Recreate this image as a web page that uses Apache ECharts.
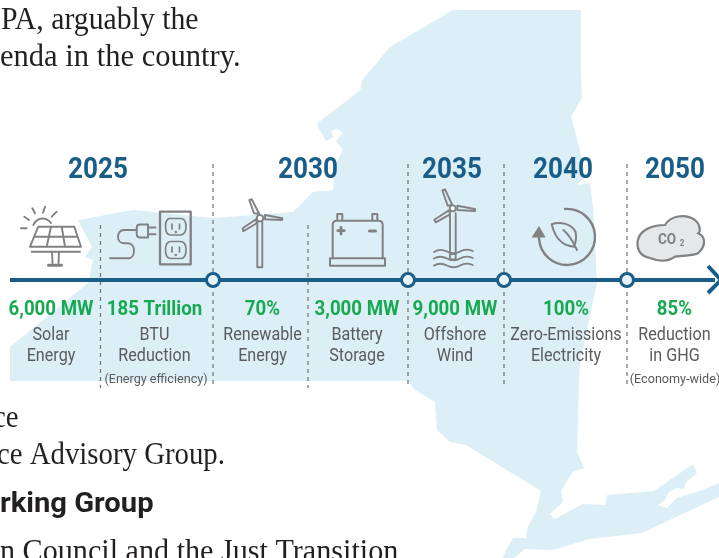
<!DOCTYPE html>
<html>
<head>
<meta charset="utf-8">
<style>html,body{margin:0;padding:0;background:#fff;overflow:hidden}#chart{width:719px;height:558px}</style>
<script src="https://cdn.jsdelivr.net/npm/echarts@6/dist/echarts.min.js"></script>
</head>
<body>
<div id="chart"></div>
<script>
// content
var years = ['2025', '2030', '2035', '2040', '2050'];
var amounts = ['6,000 MW', '185 Trillion', '70%', '3,000 MW', '9,000 MW', '100%', '85%'];
var measures = [['Solar', 'Energy'], ['BTU', 'Reduction'], ['Renewable', 'Energy'], ['Battery', 'Storage'], ['Offshore', 'Wind'], ['Zero-Emissions', 'Electricity'], ['Reduction', 'in GHG']];
var notes = ['', '(Energy efficiency)', '', '', '', '', '(Economy-wide)'];

// layout, in page pixels
var yearX = [98, 308, 452, 563, 675];
var columnX = [51, 154.5, 262.5, 357, 455, 566, 674.5];
var noteX = [0, 156, 0, 0, 0, 0, 675];
var milestoneX = [213, 408, 504, 627];
var minorX = [100.5, 308];
var lineY = 280;

var blue = '#1a5e88', green = '#17a950', grey = '#5a5b5d', icon = '#808183', mapColor = '#dceff7';

var mapPts = [[453,10],[581,10],[581,77],[582,98],[571,117],[580,150],[584,177],[577,185],[590,183],[593,207],[597,283],[580,363],[579,380],[577,452],[584,468],[572.5,472],[561,491],[563,502],[549.5,514],[555,519],[582.5,504],[605.5,505],[607,495],[654,491],[693,464],[697,473],[686,482],[684,489],[677,488],[669,492],[665,500],[658,505],[667,508],[677,498],[699.5,491],[719,483],[719,497],[642,533],[589.5,539],[553,550],[525,549],[514,558],[502,558],[513,538],[526,538],[527.5,527],[536,512],[541,491],[466,445],[450,442],[437,430],[435,402],[415,390],[408,381],[10,381],[10,347],[88,283],[93,260],[85,257],[92,247],[78,220],[133,210],[213,218],[293,212],[313,192],[333,190],[334,167],[343,150],[336,141],[343,133],[337,129],[331,131],[333.5,137],[326,141],[316.5,124],[360.5,90],[361.5,81],[390,47]];

function txt(x, y, s, size, color, weight, sx, family, align) {
    return {
        type: 'text', x: x, y: y, scaleX: sx, z: 10, silent: true,
        style: {
            text: s, fontFamily: family || 'Roboto', fontSize: size, fontWeight: weight || 'normal',
            fill: color, textAlign: align || 'center', textVerticalAlign: 'middle'
        }
    };
}
function stroke(d, w, fill) {
    return {
        type: 'path', shape: { pathData: d },
        style: { fill: fill || 'none', stroke: icon, lineWidth: w || 1.9, lineJoin: 'round', lineCap: 'round' }
    };
}
function solid(d) {
    return { type: 'path', shape: { pathData: d }, style: { fill: icon } };
}
function turbine(o) {
    return [stroke(o.tower), stroke(o.blades), stroke(o.hub, 1.8, '#fff')];
}

var elements = [{
    type: 'polygon', z: 0, silent: true, shape: { points: mapPts }, style: { fill: mapColor }
}];

// body copy around the timeline
var ink = '#231f20', serif = 'Liberation Serif';
elements.push(txt(1, 21, 'PA, arguably the', 32, ink, 'normal', 0.93, serif, 'left'));
elements.push(txt(0, 58, 'enda in the country.', 32, ink, 'normal', 0.955, serif, 'left'));
elements.push(txt(-7, 419, 'ce', 32, ink, 'normal', 0.9, serif, 'left'));
elements.push(txt(-3, 456, 'ce Advisory Group.', 32, ink, 'normal', 0.9, serif, 'left'));
elements.push(txt(0, 505, 'rking Group', 27, ink, 'bold', 1.08, 'Roboto', 'left'));
elements.push(txt(0, 553, 'n Council and the Just Transition', 32, ink, 'normal', 0.942, serif, 'left'));

years.forEach(function (y, i) { elements.push(txt(yearX[i], 170, y, 30, blue, 'bold', 0.87)); });
amounts.forEach(function (a, i) { elements.push(txt(columnX[i], 310, a, 21, green, 'bold', 0.89)); });
measures.forEach(function (m, i) {
    elements.push(txt(columnX[i], 335, m[0], 19, grey, 'normal', 0.85));
    elements.push(txt(columnX[i], 356, m[1], 19, grey, 'normal', 0.85));
});
notes.forEach(function (n, i) { if (n) elements.push(txt(noteX[i], 380, n, 13, grey, 'normal', 0.97)); });
elements.push(txt(667, 240, 'CO', 15, icon, 'bold', 0.9));
elements.push(txt(682, 244, '2', 9, icon, 'bold', 0.9));

// icons, drawn by one custom series
var icons = [];
// solar panel
icons.push(stroke('M33.3 225A10 10 0 0 1 51 223M21 228.3H26.7M24.3 216.7L29 220M32.3 208.3L35 213.3M45 206.7L43 212.7M56.7 211.7L51.7 216.7'));
icons.push(stroke('M38.3 226.7H74.3L81 246.7H30ZM34 236.7H77.7M51 226.7L46.7 246.7M61.7 226.7L65 246.7M31.7 251.7H80M52 252L52.5 263M59 252L58.5 263'));
icons.push(stroke('M48.5 265.2H61.5', 3));
// plug and outlet
icons.push(stroke('M110 258.3H128C136 258.3 136 243.3 128 243.3H124C116 243.3 116 230 124 230H136.7'));
icons.push(stroke('M148 224.5H140Q136.7 224.5 136.7 228V234Q136.7 237.5 140 237.5H148ZM148 227.5H155.5M148 234.3H155.5'));
icons.push(stroke('M160 211.7H190.7V264.3H160Z', 2.3));
icons.push(stroke('M171 218.5H180.5Q186 218.5 186 226.5T180.5 235H171Q165.5 235 165.5 226.5T171 218.5ZM172 224V229M179.5 224V229M171 241.5H180.5Q186 241.5 186 250T180.5 258.5H171Q165.5 258.5 165.5 250T171 241.5ZM172 247V252M179.5 247V252', 1.7));
icons.push(solid('M174.5 232a1.3 1.3 0 1 0 2.6 0a1.3 1.3 0 1 0 -2.6 0ZM174.5 255a1.3 1.3 0 1 0 2.6 0a1.3 1.3 0 1 0 -2.6 0Z'));
// onshore turbine
icons = icons.concat(turbine({
    tower: 'M257.3 222V267.3H262.3V222',
    blades: 'M259.3 214L251.7 199.3L249.3 200L254 213.3ZM265 215L282.3 218.3V220L265 219.3ZM256 219.3L242.7 228.3L243.3 231.3L256.7 223.3Z',
    hub: 'M256.8 218.3a3.2 3.2 0 1 0 6.4 0a3.2 3.2 0 1 0 -6.4 0Z'
}));
// battery
icons.push(stroke('M332.7 258.3V225Q332.7 220.7 337 220.7H378.5Q382.7 220.7 382.7 225V258.3M337.3 220.7V214H342.3V220.7M372.3 220.7V214H377.3V220.7', 2));
icons.push(stroke('M330 258.3H385V265.7H330Z', 2));
icons.push(stroke('M341 227.5V234M337.8 230.7H344.2', 2.8));
icons.push(stroke('M369.5 231H375.5', 3));
// offshore turbine
icons = icons.concat(turbine({
    tower: 'M450 213.3V259.5H455.7V213.3M450 254H455.7',
    blades: 'M452.3 205L445 189.3L442.3 190.3L447.7 205.7ZM457.3 205.7L475 209V211L457.3 210ZM449 210.3L434.3 219.7L435.7 222.3L450 214.3Z',
    hub: 'M449.7 208.3a3 3 0 1 0 6 0a3 3 0 1 0 -6 0Z'
}));
icons.push(stroke('M434 252Q440 248 447 251.5T460 251.5T472.7 251M434 258.5Q440 255 447 258.5T460 258.5T472.7 258M434 265.5Q440 262 447 265.5T460 265.5T472.7 265'));
// leaf in a circular arrow
icons.push(stroke('M565 209A28 28 0 1 1 539 237', 2.4));
icons.push(solid('M531.7 237.5H545.7L539 226Z'));
icons.push(stroke('M551.7 224.3C560 221 572 224 575.5 232C577 238 575.5 243 574 246.7C565 246 556 242 551.7 224.3ZM563.3 230C570 235 573 242 577 250', 2));
// CO2 cloud
icons.push({
    type: 'path',
    shape: { pathData: 'M637.5 241.7C639 230 652 225 665 225C670 216 685 213 695 220C700 224 701 231 698.3 233.3C705 236 707 245 698 253.3C693 256 685 255 675 256.7C668 262 660 262 650 258C640 256 637 250 637.5 241.7Z' },
    style: { fill: '#e6e7e8', stroke: icon, lineWidth: 2.2 }
});

// gaps between the dashed guides come from null points
var guides = [];
milestoneX.forEach(function (x) { guides.push([x, 164], [x, 388], null); });
minorX.forEach(function (x) { guides.push([x, 225], [x, 388], null); });

var timeline = [[10, lineY]].concat(milestoneX.map(function (x) {
    return { value: [x, lineY], symbol: 'circle', symbolSize: 13 };
}), [[715, lineY]]);

var myChart = echarts.init(document.getElementById('chart'));
var option = {
    backgroundColor: '#fff',
    animation: false,
    grid: { left: 0, right: 0, top: 0, bottom: 0 },
    xAxis: { type: 'value', min: 0, max: 719, show: false },
    yAxis: { type: 'value', min: 0, max: 558, inverse: true, show: false },
    graphic: { elements: elements },
    series: [
        {
            type: 'custom', name: 'icons', data: [[0, 0]], silent: true, z: 2, clip: false,
            renderItem: function () { return { type: 'group', children: icons }; }
        },
        {
            type: 'line', name: 'guides', data: guides, symbol: 'none', z: 3, silent: true,
            connectNulls: false,
            lineStyle: { color: '#6d6e70', width: 1.2, type: [4, 4] }
        },
        {
            type: 'line', name: 'timeline', data: timeline, symbol: 'none', showAllSymbol: true, z: 4, silent: true,
            lineStyle: { color: blue, width: 4 },
            itemStyle: { color: '#e6f3f9', borderColor: blue, borderWidth: 3, opacity: 1 }
        },
        {
            type: 'line', name: 'arrow', data: [[708, 266], [721, 280], [708, 293]], symbol: 'none', z: 4, silent: true,
            lineStyle: { color: blue, width: 4 }
        }
    ]
};
myChart.setOption(option);
</script>
</body>
</html>
